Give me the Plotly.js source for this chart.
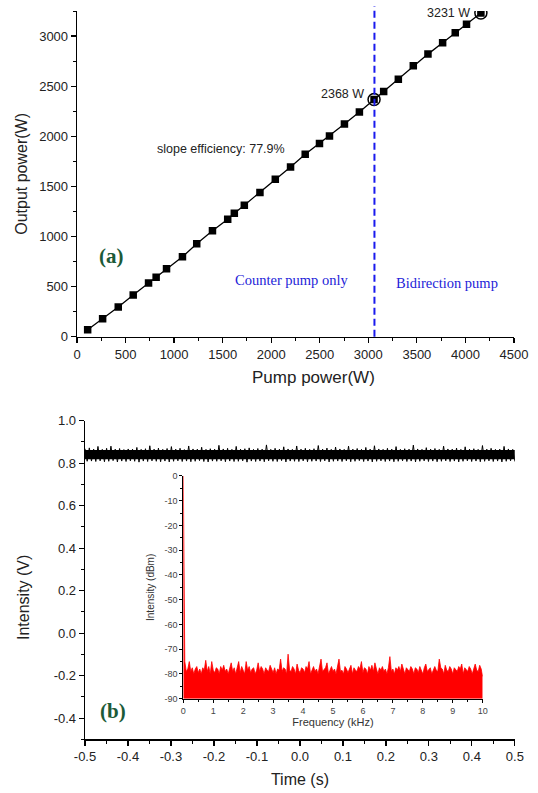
<!DOCTYPE html>
<html><head><meta charset="utf-8">
<script src="https://cdn.plot.ly/plotly-3.0.1.min.js"></script>
<style>html,body{margin:0;padding:0;background:#fff}#chart{width:538px;height:793px}</style>
</head><body><div id="chart"></div>
<script>
// ---- Panel (a): output power vs pump power ----
const pumpPower = [110,264,425,579,737,815,922,1086,1233,1395,1552,1620,1723,1884,2042,2199,2350,2497,2600,2754,2908,3059,3158,3309,3463,3614,3765,3895,4011,4159];
const outputPower = [70,180,297,417,537,593,677,797,927,1057,1173,1233,1313,1440,1570,1693,1820,1927,2003,2123,2243,2368,2447,2570,2703,2820,2933,3033,3117,3231];
const markedPump = [3059, 4159];
const markedOutput = [2368, 3231];
const markedLabels = ['2368 W', '3231 W'];
const pumpSwitch = 3063;

// ---- Panel (b): time-domain intensity ----
const signalLevel = [
0.868,0.809,0.872,0.810,0.866,0.808,0.879,0.811,0.865,0.807,0.870,0.809,0.880,0.812,0.866,0.806,0.869,0.810,0.864,0.808,
0.867,0.811,0.866,0.809,0.874,0.805,0.865,0.810,0.868,0.808,0.882,0.811,0.866,0.809,0.871,0.807,0.865,0.810,0.869,0.806,
0.878,0.809,0.866,0.811,0.870,0.808,0.864,0.810,0.881,0.807,0.867,0.809,0.866,0.812,0.875,0.808,0.865,0.806,0.868,0.810,
0.866,0.809,0.884,0.811,0.867,0.807,0.870,0.810,0.865,0.808,0.879,0.809,0.866,0.811,0.868,0.805,0.872,0.810,0.865,0.808,
0.869,0.810,0.866,0.807,0.886,0.811,0.865,0.809,0.870,0.808,0.866,0.812,0.877,0.806,0.867,0.810,0.865,0.809,0.881,0.808,
0.866,0.811,0.870,0.807,0.865,0.809,0.868,0.810,0.883,0.808,0.866,0.811,0.871,0.806,0.865,0.809,0.876,0.810,0.867,0.808,
0.865,0.811,0.880,0.807,0.866,0.809,0.869,0.812,0.865,0.808,0.874,0.810,0.866,0.806,0.882,0.809,0.867,0.811,0.865,0.808,
0.870,0.810,0.866,0.807,0.878,0.809,0.865,0.811,0.868,0.808,0.866,0.810,0.885,0.806,0.867,0.809,0.865,0.811,0.873,0.808,
0.866,0.810,0.869,0.807,0.865,0.809,0.880,0.811,0.867,0.808,0.866,0.810,0.871,0.806,0.865,0.809,0.877,0.811,0.866,0.808,
0.868,0.810,0.865,0.807,0.883,0.809,0.866,0.811,0.870,0.808,0.865,0.810,0.866,0.806,0.879,0.809,0.867,0.811,0.865,0.808];
const timeStart = -0.5, timeEnd = 0.5;
const bandTime = [-0.5, 0.5];
const bandLow = [0.818, 0.818];
const bandHigh = [0.862, 0.862];

// tick labels (hyphen minus, as in the original)
const timeTickVals = [-0.5,-0.4,-0.3,-0.2,-0.1,0,0.1,0.2,0.3,0.4,0.5];
const timeTickText = ['-0.5','-0.4','-0.3','-0.2','-0.1','0.0','0.1','0.2','0.3','0.4','0.5'];
const voltTickVals = [-0.4,-0.2,0,0.2,0.4,0.6,0.8,1.0];
const voltTickText = ['-0.4','-0.2','0.0','0.2','0.4','0.6','0.8','1.0'];
const dbmTickVals = [-90,-80,-70,-60,-50,-40,-30,-20,-10,0];
const dbmTickText = ['-90','-80','-70','-60','-50','-40','-30','-20','-10','0'];

// ---- Inset: RF spectrum ----
const dcLevel = 0;            // dBm at 0 kHz
const specStep = 0.05;        // kHz between spectrum samples
const spectrumDbm = [
-75,-79,-78,-75,-79,-77.5,-80,-78,-77,-79.5,-78,-80,-77.5,-78.5,-74.5,-79,-77,-80,-75,-78.5,
-79.5,-77.5,-78,-80,-77,-78.5,-76.5,-79,-78,-80,-78,-75.5,-79,-77.5,-80,-78,-75,-79.5,-77,-78.5,
-80,-75,-78.5,-77,-79.5,-78,-77.5,-80,-78.5,-75.5,-79,-77,-78,-80,-77.5,-78.5,-79,-76.5,-78,-79.5,
-77.5,-80,-78,-78.5,-74,-79,-77.5,-78,-80,-72,-78.5,-79,-77,-78,-80,-76,-78.5,-79.5,-77.5,-78,
-79.5,-77,-78,-75,-80,-78.5,-77,-79,-78,-80,-77.5,-74,-79,-78,-77.5,-75.5,-80,-78.5,-77,-79,
-78,-80,-77.5,-74,-79,-78.5,-80,-77,-78,-79.5,-78,-76.5,-80,-77.5,-78.5,-79,-77,-78,-75,-79.5,
-77.5,-78,-80,-77,-78.5,-76.5,-79,-75.5,-78,-80,-77.5,-78.5,-77,-79,-78,-80,-77.5,-73,-79,-78,
-80,-77.5,-78.5,-77,-79,-76,-78,-80,-77.5,-78.5,-79,-77,-78,-80,-77.5,-78,-79.5,-77,-78.5,-80,
-77.5,-76,-79,-78,-77.5,-80,-78,-77,-78.5,-79,-74,-77.5,-78,-80,-76.5,-78.5,-79,-77,-78,-80,
-77.5,-78.5,-79,-77,-78,-76,-80,-77.5,-78.5,-79,-77,-78,-80,-77.5,-76,-78.5,-79,-76.5,-78,-81];
const specFloor = -90;

// grids
const signalTime = signalLevel.map((_, i) => timeStart + i * (timeEnd - timeStart) / (signalLevel.length - 1));
const specFreq = [0].concat(spectrumDbm.map((_, i) => +((i + 1) * specStep).toFixed(2)));
const specVals = [dcLevel].concat(spectrumDbm);

const SANS = 'Liberation Sans, Arial, sans-serif';
const SERIF = 'Liberation Serif, Times New Roman, serif';

const traces = [
  {x: pumpPower, y: outputPower, xaxis: 'x', yaxis: 'y', mode: 'lines+markers', type: 'scatter',
   line: {color: '#000', width: 1.3},
   marker: {symbol: 'square', size: 7.5, color: '#000'}},
  {x: markedPump, y: markedOutput, xaxis: 'x', yaxis: 'y', mode: 'markers', type: 'scatter',
   marker: {symbol: 'circle-open', size: 12, color: '#000', line: {width: 1.5, color: '#000'}}},
  // time-domain band core
  {x: bandTime, y: bandLow, xaxis: 'x2', yaxis: 'y2', mode: 'lines', line: {width: 0, color: '#000'}, type: 'scatter'},
  {x: bandTime, y: bandHigh, xaxis: 'x2', yaxis: 'y2', mode: 'lines', line: {width: 0, color: '#000'}, fill: 'tonexty', fillcolor: '#000', type: 'scatter'},
  {x: signalTime, y: signalLevel, xaxis: 'x2', yaxis: 'y2', mode: 'lines', line: {width: 1, color: '#000'}, type: 'scatter'},
  // inset spectrum
  {x: [0, 10], y: [specFloor, specFloor], xaxis: 'x3', yaxis: 'y3', mode: 'lines', line: {width: 0, color: '#f00'}, type: 'scatter'},
  {x: specFreq, y: specVals, xaxis: 'x3', yaxis: 'y3', mode: 'lines', line: {width: 0.8, color: '#ff0000'}, fill: 'tonexty', fillcolor: '#ff0000', type: 'scatter'}
];

const axBase = {showline: true, linecolor: '#000', linewidth: 1.3, ticks: 'outside', ticklen: 5, tickwidth: 1.2,
  tickcolor: '#000', showgrid: false, zeroline: false, tickfont: {family: SANS, size: 13, color: '#222'}, automargin: false};

const layout = {
  width: 538, height: 793, margin: {l: 0, r: 0, t: 0, b: 0},
  paper_bgcolor: '#fff', plot_bgcolor: 'rgba(0,0,0,0)', showlegend: false,
  xaxis: Object.assign({}, axBase, {domain: [0.1431, 0.9554], range: [0, 4500], anchor: 'y', dtick: 500, tick0: 0,
    minor: {ticks: 'outside', ticklen: 3, tickwidth: 1, tickcolor: '#000', dtick: 250, tick0: 0}}),
  yaxis: Object.assign({}, axBase, {domain: [0.5754, 0.9861], range: [0, 3250], anchor: 'x', dtick: 500, tick0: 0,
    minor: {ticks: 'outside', ticklen: 3, tickwidth: 1, tickcolor: '#000', dtick: 250, tick0: 0},
    title: {text: 'Output power(W)', font: {family: SANS, size: 16, color: '#222'}, standoff: 7}}),
  xaxis2: Object.assign({}, axBase, {domain: [0.158, 0.957], range: [-0.5, 0.5], anchor: 'y2',
    tickmode: 'array', tickvals: timeTickVals, ticktext: timeTickText,
    minor: {ticks: 'outside', ticklen: 3, tickwidth: 1, tickcolor: '#000', dtick: 0.05, tick0: 0},
    title: {text: 'Time (s)', font: {family: SANS, size: 16, color: '#222'}, standoff: 10}}),
  yaxis2: Object.assign({}, axBase, {domain: [0.0675, 0.4695], range: [-0.5, 1.0], anchor: 'x2',
    tickmode: 'array', tickvals: voltTickVals, ticktext: voltTickText,
    minor: {ticks: 'outside', ticklen: 3, tickwidth: 1, tickcolor: '#000', dtick: 0.1, tick0: 0}}),
  xaxis3: Object.assign({}, axBase, {domain: [0.3407, 0.8972], range: [0, 10], anchor: 'y3', dtick: 1, tick0: 0, linewidth: 1,
    ticklen: 3, tickwidth: 1, tickfont: {family: SANS, size: 9, color: '#444'},
    minor: {ticks: 'outside', ticklen: 2, tickwidth: 1, tickcolor: '#000', dtick: 0.5, tick0: 0},
    title: {text: 'Frequency (kHz)', font: {family: SANS, size: 11, color: '#333'}, standoff: 3}}),
  yaxis3: Object.assign({}, axBase, {domain: [0.1189, 0.3998], range: [-90, 0], anchor: 'x3', linewidth: 1,
    tickmode: 'array', tickvals: dbmTickVals, ticktext: dbmTickText,
    ticklen: 3, tickwidth: 1, tickfont: {family: SANS, size: 9, color: '#444'},
    minor: {ticks: 'outside', ticklen: 2, tickwidth: 1, tickcolor: '#000', dtick: 5, tick0: 0},
    title: {text: 'Intensity (dBm)', font: {family: SANS, size: 10, color: '#333'}, standoff: 7}}),
  shapes: [
    {type: 'line', xref: 'x', yref: 'y domain', x0: pumpSwitch, x1: pumpSwitch, y0: 0, y1: 1.015,
     line: {color: '#1a1aee', width: 2, dash: '7px,4px'}}
  ],
  annotations: [
    {xref: 'x', yref: 'y', x: 802, y: 1870, text: 'slope efficiency: 77.9%', showarrow: false, xanchor: 'left',
     font: {family: SANS, size: 12.5, color: '#222'}},
    {xref: 'x', yref: 'y', x: 2980, y: 2420, text: markedLabels[0], showarrow: false, xanchor: 'right',
     font: {family: SANS, size: 12.5, color: '#222'}},
    {xref: 'x', yref: 'y', x: 4070, y: 3235, text: markedLabels[1], showarrow: false, xanchor: 'right',
     font: {family: SANS, size: 12.5, color: '#222'}},
    {xref: 'x', yref: 'y', x: 360, y: 803, text: '<b>(a)</b>', showarrow: false,
     font: {family: SERIF, size: 21, color: '#1c5a38'}},
    {xref: 'x', yref: 'y', x: 2210, y: 563, text: 'Counter pump only', showarrow: false,
     font: {family: SERIF, size: 14.5, color: '#2323d8'}},
    {xref: 'x', yref: 'y', x: 3811, y: 537, text: 'Bidirection pump', showarrow: false,
     font: {family: SERIF, size: 14.5, color: '#2323d8'}},
    {xref: 'x2', yref: 'y2', x: -0.4356, y: -0.367, text: '<b>(b)</b>', showarrow: false,
     font: {family: SERIF, size: 21, color: '#1c5a38'}},
    {xref: 'paper', yref: 'paper', x: 313 / 538, y: 1 - 377 / 793, xanchor: 'center', yanchor: 'middle',
     text: 'Pump power(W)', showarrow: false, font: {family: SANS, size: 17, color: '#222'}},
    {xref: 'paper', yref: 'paper', x: 23 / 538, y: 1 - 598 / 793, xanchor: 'center', yanchor: 'middle',
     text: 'Intensity (V)', showarrow: false, textangle: -90, font: {family: SANS, size: 16, color: '#222'}}
  ]
};

Plotly.newPlot('chart', traces, layout, {staticPlot: true, displayModeBar: false});
</script>
</body></html>
